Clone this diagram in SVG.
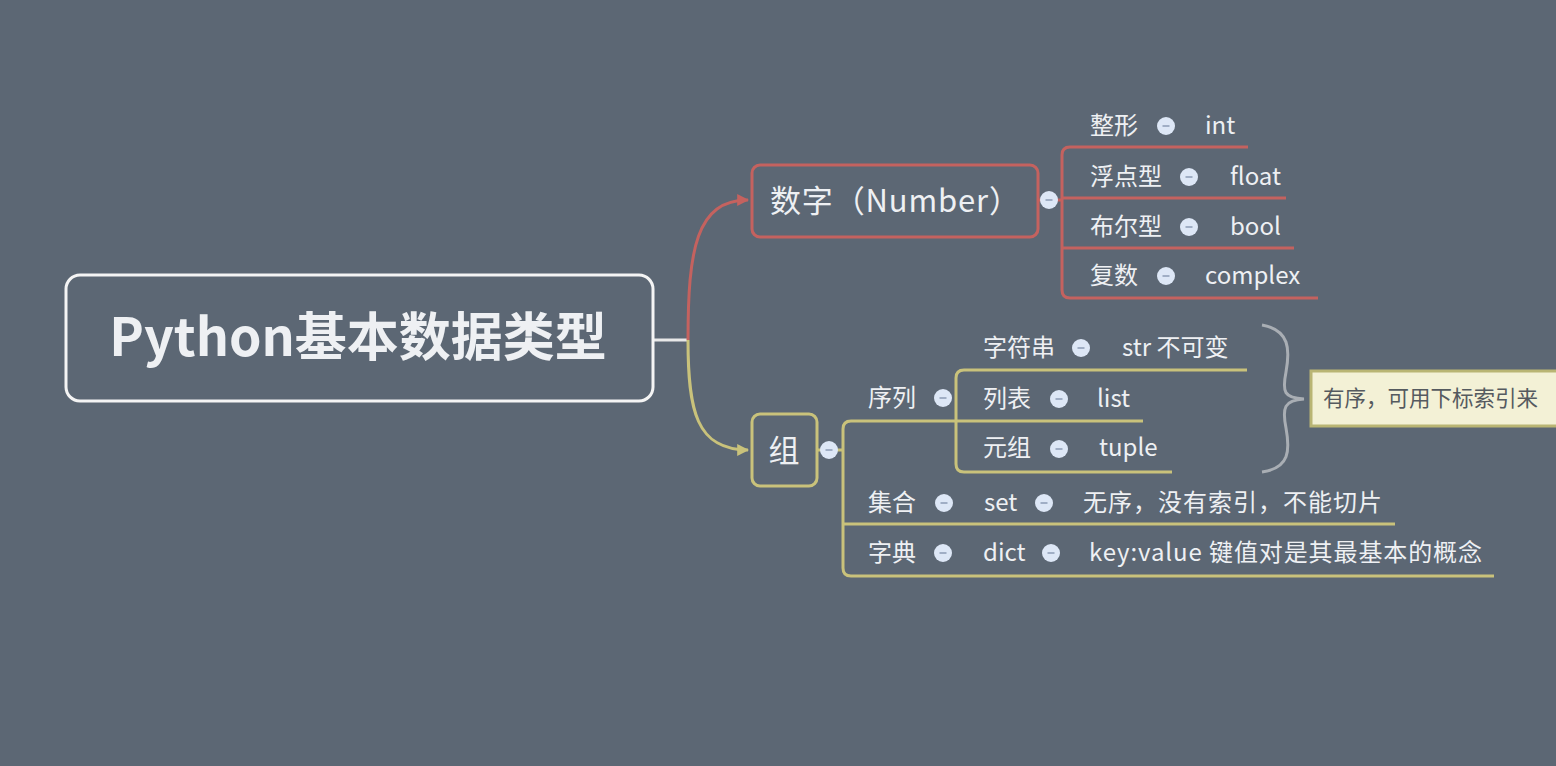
<svg xmlns="http://www.w3.org/2000/svg" width="1556" height="766" viewBox="0 0 1556 766">
<defs>
<style>
.t{font-family:"Noto Sans CJK SC","Noto Sans",sans-serif;fill:#eef0f3;}
.c{font-size:24px;}
.red{stroke:#c4625f;fill:none;stroke-width:3;}
.yel{stroke:#c9c27b;fill:none;stroke-width:3;}
</style>
<marker id="ar" viewBox="0 0 10 10" refX="9" refY="5" markerWidth="4" markerHeight="4" orient="auto"><path d="M0,0 L10,5 L0,10 z" fill="#c4625f"/></marker>
<marker id="ay" viewBox="0 0 10 10" refX="9" refY="5" markerWidth="4" markerHeight="4" orient="auto"><path d="M0,0 L10,5 L0,10 z" fill="#c9c27b"/></marker>
<symbol id="d" viewBox="-10 -10 20 20" overflow="visible"><circle r="9" fill="#dde7f6"/><line x1="-3.5" y1="0" x2="3.5" y2="0" stroke="#8b9bb4" stroke-width="1.5"/></symbol>
</defs>
<rect width="1556" height="766" fill="#5c6774"/>

<g id="connectors">
<path d="M653,340 H688" stroke="#e8e8e8" stroke-width="3" fill="none"/>
<path class="red" d="M688,340 C688,250 696,200 748,200" marker-end="url(#ar)"/>
<path class="yel" d="M688,340 C688,410 696,450 748,450" marker-end="url(#ay)"/>
<path class="red" d="M1037,200 H1062"/>
<path class="red" d="M1248,147 H1070 Q1062,147 1062,155 V290 Q1062,298 1070,298 H1318"/>
<path class="red" d="M1062,198 H1286"/>
<path class="red" d="M1062,248 H1294"/>
<path class="yel" d="M817,450 H843"/>
<path class="yel" d="M1143,421 H851 Q843,421 843,429 V568 Q843,576 851,576 H1494"/>
<path class="yel" d="M843,524 H1395"/>
<path class="yel" d="M1247,370 H964 Q956,370 956,378 V464 Q956,472 964,472 H1172"/>
<path d="M1262,325 C1290,330 1290,350 1286,372 C1282,392 1284,398 1304,399 C1284,400 1282,408 1286,428 C1290,450 1290,468 1262,472" stroke="#a9aeb4" stroke-width="3" fill="none"/>
</g>

<g id="root">
<rect x="66" y="275" width="587" height="126" rx="14" fill="none" stroke="#f4f4f4" stroke-width="3"/>
<text class="t" x="358" y="356" text-anchor="middle" font-size="52" font-weight="bold">Python基本数据类型</text>
</g>

<g id="number">
<rect x="752" y="165" width="286" height="72" rx="8" fill="none" stroke="#c4625f" stroke-width="3"/>
<text class="t" x="770" y="212" font-size="31" textLength="250" lengthAdjust="spacing">数字（Number）</text>
<use href="#d" x="1039" y="190" width="20" height="20"/>
</g>

<g id="n-int"><text class="t c" x="1090" y="134">整形</text><use href="#d" x="1156" y="116" width="20" height="20"/><text class="t c" x="1205" y="134">int</text></g>
<g id="n-float"><text class="t c" x="1090" y="185">浮点型</text><use href="#d" x="1179" y="167" width="20" height="20"/><text class="t c" x="1230" y="185">float</text></g>
<g id="n-bool"><text class="t c" x="1090" y="235">布尔型</text><use href="#d" x="1179" y="217" width="20" height="20"/><text class="t c" x="1230" y="235">bool</text></g>
<g id="n-complex"><text class="t c" x="1090" y="284">复数</text><use href="#d" x="1156" y="266" width="20" height="20"/><text class="t c" x="1205" y="284">complex</text></g>

<g id="group">
<rect x="752" y="414" width="65" height="72" rx="8" fill="none" stroke="#c9c27b" stroke-width="3"/>
<text class="t" x="784" y="462" font-size="31" text-anchor="middle">组</text>
<use href="#d" x="819" y="440" width="20" height="20"/>
</g>

<g id="seq"><text class="t c" x="868" y="406">序列</text><use href="#d" x="933" y="388" width="20" height="20"/></g>
<g id="s-str"><text class="t c" x="983" y="356">字符串</text><use href="#d" x="1071" y="338" width="20" height="20"/><text class="t c" x="1122" y="356">str 不可变</text></g>
<g id="s-list"><text class="t c" x="983" y="407">列表</text><use href="#d" x="1049" y="389" width="20" height="20"/><text class="t c" x="1097" y="407">list</text></g>
<g id="s-tuple"><text class="t c" x="983" y="456">元组</text><use href="#d" x="1049" y="439" width="20" height="20"/><text class="t c" x="1099" y="456">tuple</text></g>

<g id="note">
<rect x="1311" y="371" width="260" height="55" fill="#f3f1d6" stroke="#b9b574" stroke-width="3"/>
<text x="1323" y="406" font-family="Noto Sans CJK SC,sans-serif" font-size="21.5" fill="#555a5f">有序，可用下标索引来</text>
</g>

<g id="set"><text class="t c" x="868" y="511">集合</text><use href="#d" x="934" y="493" width="20" height="20"/><text class="t c" x="984" y="511">set</text><use href="#d" x="1034" y="493" width="20" height="20"/><text class="t c" x="1083" y="511" textLength="299" lengthAdjust="spacing">无序，没有索引，不能切片</text></g>
<g id="dict"><text class="t c" x="868" y="561">字典</text><use href="#d" x="933" y="543" width="20" height="20"/><text class="t c" x="983" y="561">dict</text><use href="#d" x="1041" y="543" width="20" height="20"/><text class="t c" x="1089" y="561" textLength="393" lengthAdjust="spacing">key:value 键值对是其最基本的概念</text></g>
</svg>
